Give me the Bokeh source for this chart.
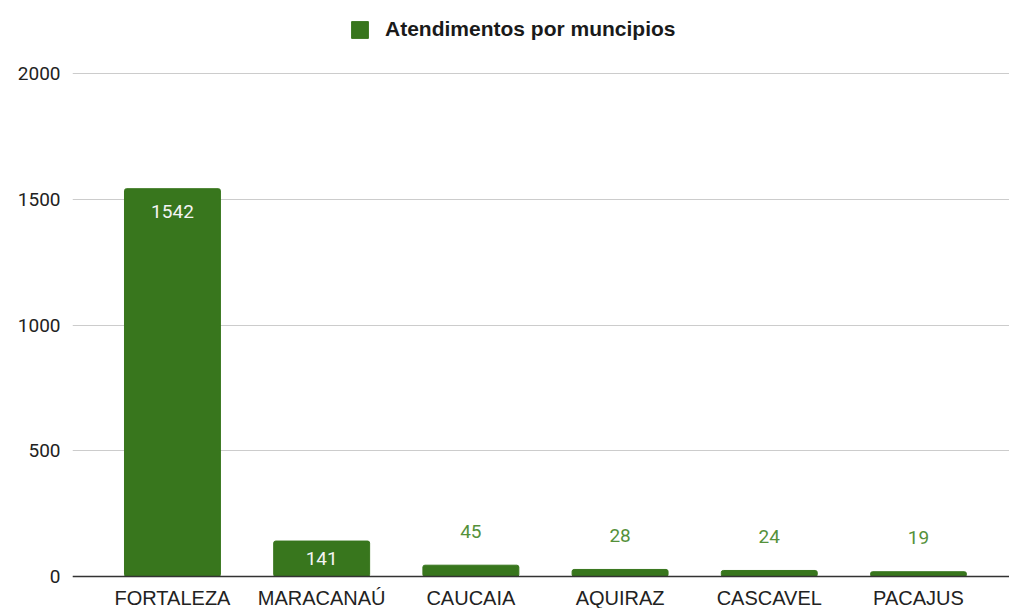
from bokeh.plotting import figure
from bokeh.models import ColumnDataSource, Range1d, FixedTicker, Legend, LegendItem
from bokeh.core.properties import value
from bokeh.embed import file_html
from bokeh.resources import INLINE

# ---- data ----
cities = ["FORTALEZA", "MARACANAÚ", "CAUCAIA", "AQUIRAZ", "CASCAVEL", "PACAJUS"]
atendimentos = [1542, 141, 45, 28, 24, 19]
y_ticks = [0, 500, 1000, 1500, 2000]
series_name = "Atendimentos por muncipios"

BAR = "#38761d"
OUT_LABEL = "#55913a"
IN_LABEL = "#f4f4f4"

xs = list(range(len(cities)))
src = ColumnDataSource(dict(x=xs, top=atendimentos))

# label placement computed from values
lab_y, lab_off, lab_col, lab_base = [], [], [], []
for v in atendimentos:
    if v >= 1000:
        lab_y.append(v); lab_off.append(23); lab_col.append(IN_LABEL); lab_base.append("middle")
    elif v >= 100:
        lab_y.append(v / 2); lab_off.append(0); lab_col.append(IN_LABEL); lab_base.append("middle")
    else:
        lab_y.append(v); lab_off.append(-34); lab_col.append(OUT_LABEL); lab_base.append("alphabetic")
lab_src = ColumnDataSource(dict(x=xs, y=lab_y, off=lab_off, col=lab_col, base=lab_base,
                                txt=[str(v) for v in atendimentos]))

p = figure(width=1009, height=608,
           x_range=Range1d(-0.670, 5.610), y_range=Range1d(-127.2, 2290.3),
           output_backend="svg", toolbar_location=None,
           min_border_left=72, min_border_right=0, min_border_top=0, min_border_bottom=0)
p.outline_line_color = None
p.background_fill_color = "white"
p.border_fill_color = "white"

r = p.vbar(x="x", top="top", bottom=0, width=0.643, source=src, fill_color=BAR, line_color=BAR,
           border_radius=2)

p.text(x="x", y="y", text="txt", source=lab_src, y_offset="off", text_color="col",
       text_baseline="base", text_align="center",
       text_font=value("Roboto"), text_font_size="19px")

# axes
p.xgrid.grid_line_color = None
p.ygrid.ticker = FixedTicker(ticks=y_ticks)
p.ygrid.grid_line_color = "#cccccc"
p.ygrid.grid_line_width = 1

p.yaxis.ticker = FixedTicker(ticks=y_ticks)
p.yaxis.axis_line_color = None
p.yaxis.major_tick_line_color = None
p.yaxis.minor_tick_line_color = None
p.yaxis.major_tick_out = 0
p.yaxis.major_tick_in = 0
p.yaxis.major_label_standoff = 12
p.yaxis.major_label_text_font = "Roboto"
p.yaxis.major_label_text_font_size = "19px"
p.yaxis.major_label_text_color = "#222222"

p.xaxis.fixed_location = 0
p.xaxis.ticker = FixedTicker(ticks=xs)
p.xaxis.major_label_overrides = {i: c for i, c in enumerate(cities)}
p.xaxis.axis_line_color = "#333333"
p.xaxis.axis_line_width = 1.5
p.xaxis.major_tick_line_color = None
p.xaxis.minor_tick_line_color = None
p.xaxis.major_tick_out = 0
p.xaxis.major_tick_in = 0
p.xaxis.major_label_standoff = 10
p.xaxis.major_label_text_font = "Liberation Sans"
p.xaxis.major_label_text_font_size = "20px"
p.xaxis.major_label_text_color = "#222222"

legend = Legend(items=[LegendItem(label=series_name, renderers=[r])],
                location=(277, 567), orientation="horizontal",
                glyph_width=21, glyph_height=21, label_standoff=15,
                padding=0, margin=0, border_line_color=None, background_fill_alpha=0,
                label_text_font="Liberation Sans", label_text_font_style="bold",
                label_text_font_size="21px", label_text_color="#1a1a1a")
p.add_layout(legend)

open("out.html", "w").write(file_html(p, INLINE))
